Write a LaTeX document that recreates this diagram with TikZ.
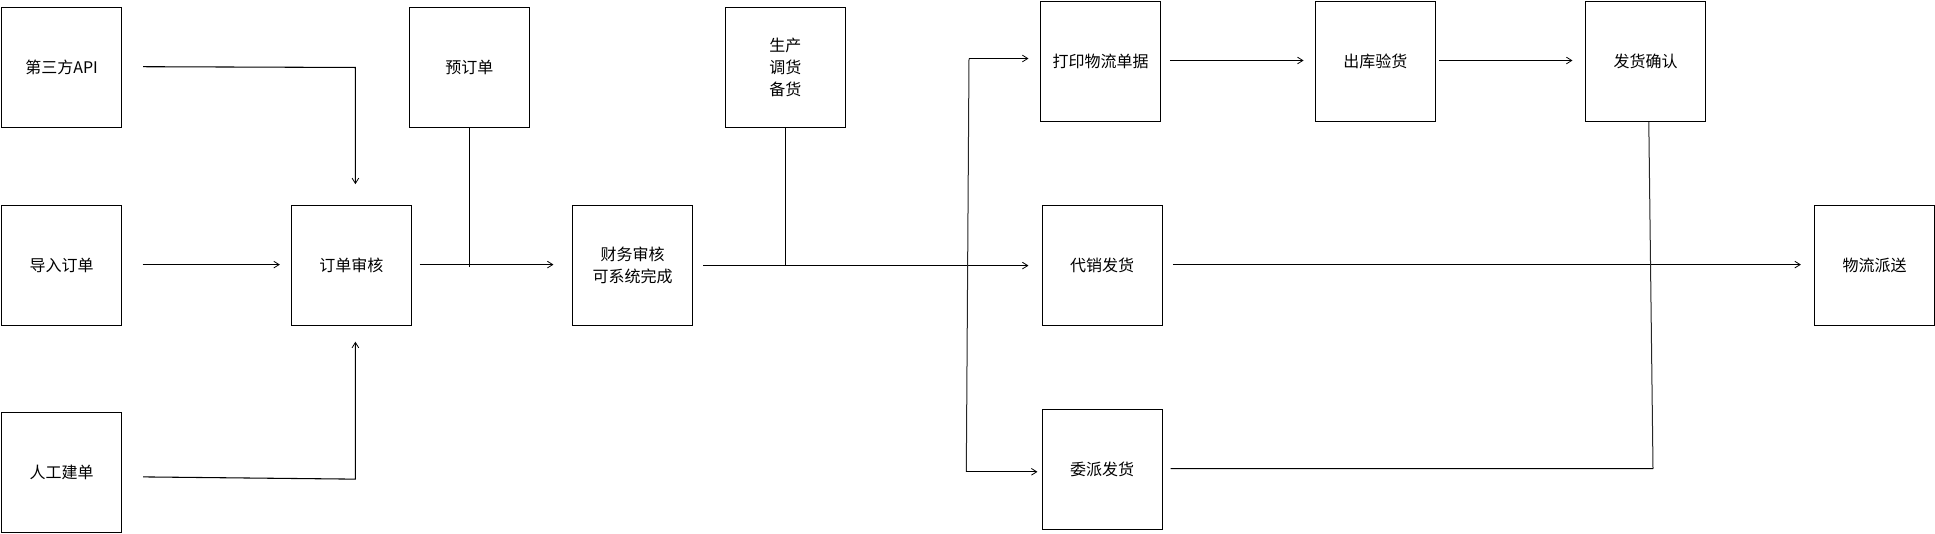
\documentclass[tikz,border=0pt]{standalone}
\usepackage{fontspec}
\setmainfont{Noto Sans CJK SC}
\usetikzlibrary{arrows.meta,calc}
\begin{document}
\begin{tikzpicture}[x=0.75pt,y=-0.75pt,
  stepbox/.style={draw,line width=0.8pt,minimum width=90pt,minimum height=90pt,inner sep=0pt,align=center,font=\fontsize{12pt}{16.5pt}\selectfont},
  conn/.style={line width=0.8pt},
  arr/.style={conn,-{Straight Barb[length=4pt,width=5pt,line width=0.6pt]}},
  thinconn/.style={line width=0.75pt,black!85}]
\useasboundingbox (0,0) rectangle (1935,533);
\node[stepbox] (api) at (61.6,67.5) {第三方API};
\node[stepbox] (pre) at (469.3,67.5) {预订单};
\node[stepbox] (prod) at (785.4,67.5) {生产\\调货\\备货};
\node[stepbox] (print) at (1100.5,61.2) {打印物流单据};
\node[stepbox] (out) at (1375.3,61.2) {出库验货};
\node[stepbox] (confirm) at (1645.5,61.5) {发货确认};
\node[stepbox] (import) at (61.6,265.5) {导入订单};
\node[stepbox] (audit) at (351.4,265.5) {订单审核};
\node[stepbox] (fin) at (632.5,265.5) {财务审核\\可系统完成};
\node[stepbox] (consign) at (1102.2,265.5) {代销发货};
\node[stepbox] (deliver) at (1874.5,265.5) {物流派送};
\node[stepbox] (manual) at (61.6,472.6) {人工建单};
\node[stepbox] (assign) at (1102.2,469.5) {委派发货};
% inputs to order audit
\draw[arr] ($(api.east)+(21,-0.8)$) -- ($(audit.north)+(4,-137.5)$) -- ($(audit.north)+(4,-20.8)$);
\draw[arr] ($(import.east)+(20.4,-0.9)$) -- ($(audit.west)+(-11,-0.9)$);
\draw[arr] ($(manual.east)+(21,4.3)$) -- ($(audit.south)+(4,153.1)$) -- ($(audit.south)+(4,15.7)$);
% audit to finance
\draw[arr] ($(audit.east)+(7.6,-0.9)$) -- ($(fin.west)+(-18.5,-0.9)$);
\draw[conn] (pre.south) -- ($(pre.south)+(0,138.8)$);
% finance to consign
\draw[arr] ($(fin.east)+(10,0.1)$) -- ($(consign.west)+(-13.2,0.1)$);
\draw[conn] (prod.south) -- ($(prod.south)+(0,138.1)$);
% branch
\coordinate (jt) at (969,58.5);
\coordinate (jb) at (966.3,471.8);
\draw[thinconn] (jt) -- (jb);
\draw[arr] (jt) -- ($(print.west)+(-11.5,-2.7)$);
\draw[arr] (jb) -- ($(assign.west)+(-4.2,2.3)$);
% top row
\draw[arr] ($(print.east)+(8.8,-0.7)$) -- ($(out.west)+(-11.2,-0.7)$);
\draw[arr] ($(out.east)+(3.6,-0.7)$) -- ($(confirm.west)+(-12.5,-1)$);
% consign to delivery
\draw[arr] ($(consign.east)+(10.1,-0.9)$) -- ($(deliver.west)+(-13.1,-0.9)$);
% confirm / assign
\coordinate (jc) at (1653,468.7);
\draw[thinconn] ($(confirm.south)+(3.3,0)$) -- (jc);
\draw[conn] (jc) -- ($(assign.east)+(7.8,-0.8)$);
\end{tikzpicture}
\end{document}
